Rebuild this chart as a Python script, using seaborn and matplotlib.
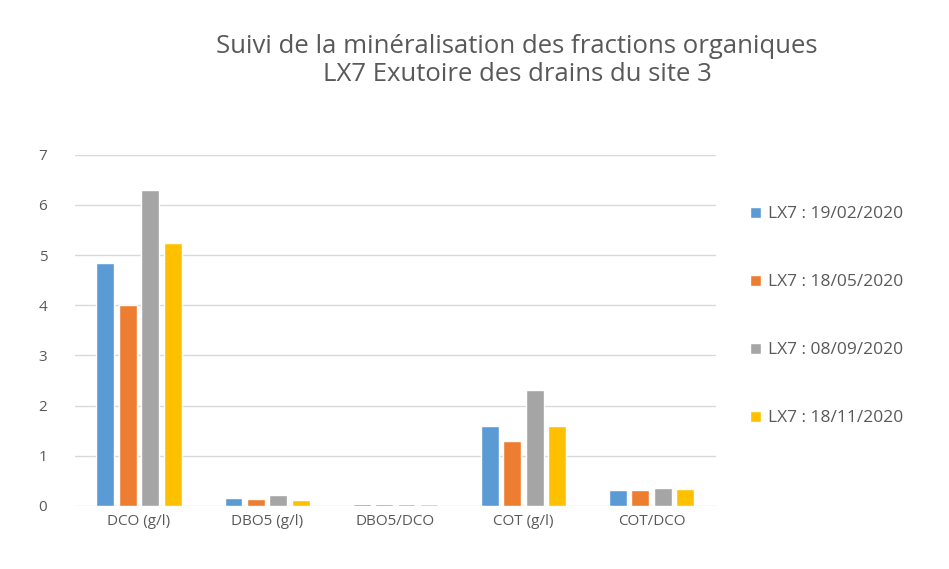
import pandas as pd
import seaborn as sns
import matplotlib.pyplot as plt

categories = ['DCO (g/l)', 'DBO5 (g/l)', 'DBO5/DCO', 'COT (g/l)', 'COT/DCO']
dates = ['LX7 : 19/02/2020', 'LX7 : 18/05/2020', 'LX7 : 08/09/2020', 'LX7 : 18/11/2020']

vals_0219 = [4.85, 0.16, 0.03, 1.60, 0.32]
vals_0518 = [4.00, 0.14, 0.03, 1.30, 0.32]
vals_0908 = [6.30, 0.22, 0.03, 2.30, 0.36]
vals_1118 = [5.25, 0.12, 0.03, 1.60, 0.33]

colors = ['#5B9BD5', '#ED7D31', '#A5A5A5', '#FFC000']

rows = []
for d, vals in zip(dates, [vals_0219, vals_0518, vals_0908, vals_1118]):
    for c, v in zip(categories, vals):
        rows.append({'param': c, 'date': d, 'val': v})
df = pd.DataFrame(rows)

sns.set_style('white')
plt.rcParams['font.family'] = ['Open Sans', 'DejaVu Sans']

fig = plt.figure(figsize=(9.49, 5.69), dpi=100)
ax = fig.add_axes([0.079, 0.111, 0.675, 0.617])

sns.barplot(data=df, x='param', y='val', hue='date', palette=colors,
            width=0.7, gap=0.2, saturation=1, ax=ax, legend=True)

ax.set_ylim(0, 7)
ax.set_yticks(range(0, 8))
ax.yaxis.grid(True, color='#D9D9D9', linewidth=1)
ax.set_axisbelow(True)
for s in ax.spines.values():
    s.set_visible(False)
ax.set_xlabel('')
ax.set_ylabel('')
ax.tick_params(axis='both', colors='#595959', labelsize=11, length=0)
ax.tick_params(axis='y', pad=20)
ax.tick_params(axis='x', pad=6)

fig.suptitle('Suivi de la minéralisation des fractions organiques\nLX7 Exutoire des drains du site 3',
             x=0.545, y=0.94, fontsize=18.5, color='#595959', linespacing=1.15)

h, l = ax.get_legend_handles_labels()
ax.legend(h, l, loc='center left', bbox_to_anchor=(1.03, 0.54), frameon=False,
          fontsize=12.5, labelcolor='#595959', handlelength=0.6, handleheight=0.6,
          handletextpad=0.4, labelspacing=3.0)

fig.savefig('out.png', dpi=100)
